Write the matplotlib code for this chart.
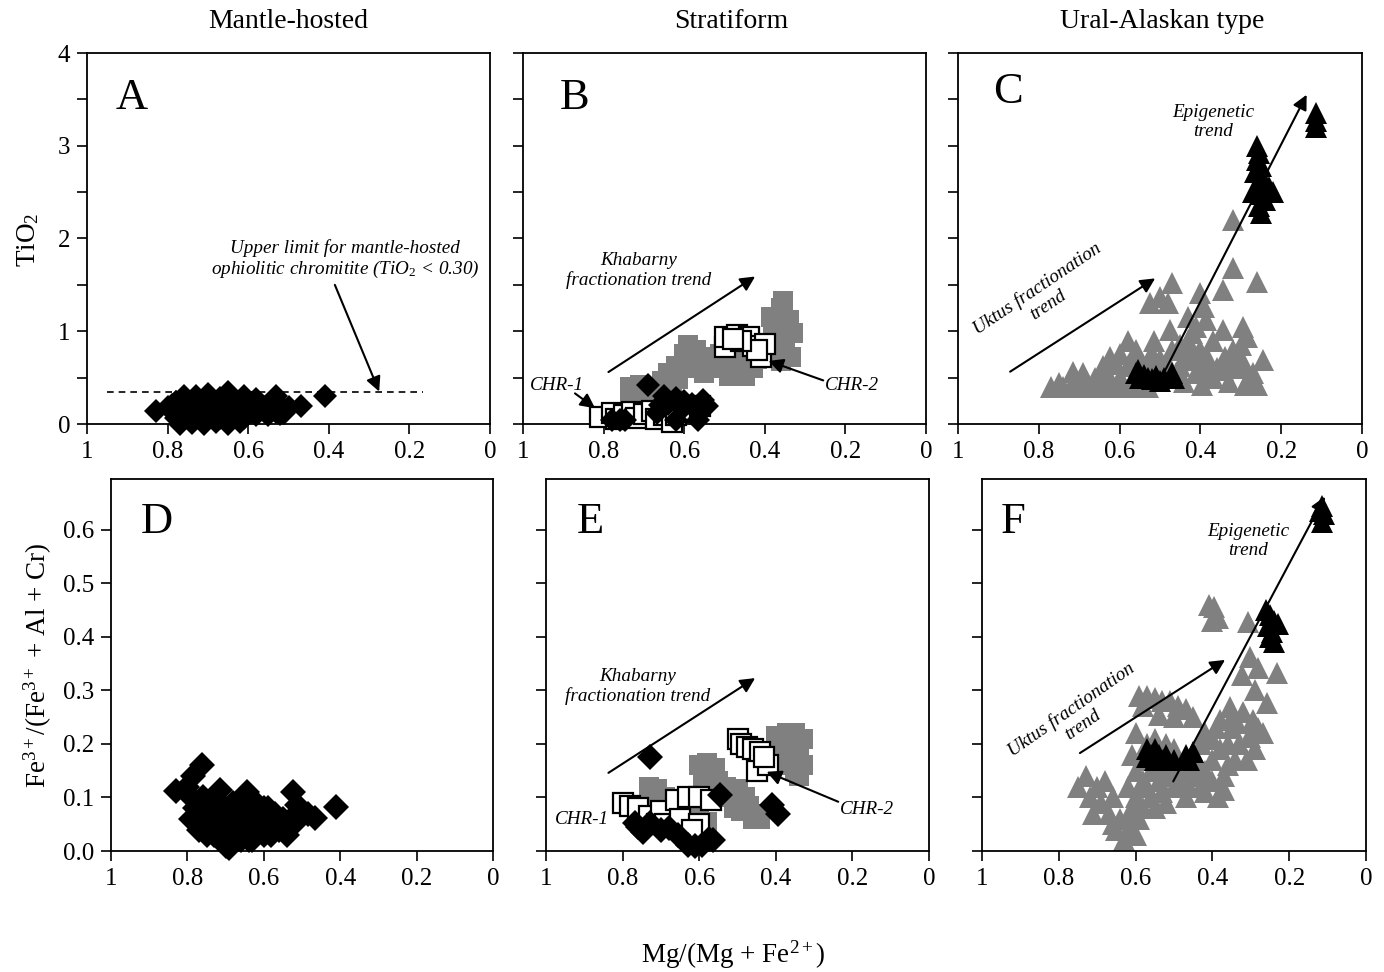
import matplotlib
matplotlib.use("Agg")
import matplotlib.pyplot as plt
from matplotlib.ticker import MultipleLocator, FixedLocator

plt.rcParams["font.family"] = ["Liberation Serif", "DejaVu Serif"]
plt.rcParams["mathtext.fontset"] = "custom"
plt.rcParams["mathtext.rm"] = "Liberation Serif"
plt.rcParams["mathtext.it"] = "Liberation Serif:italic"

GRAY = "#808080"

# ---- panel A: mantle-hosted, TiO2
a_x = [0.83, 0.80, 0.78, 0.76, 0.73, 0.70, 0.65, 0.61, 0.53, 0.67, 0.58,
       0.79, 0.78, 0.75, 0.72, 0.69, 0.66, 0.63, 0.60, 0.57, 0.55, 0.52, 0.50,
       0.79, 0.77, 0.74, 0.71, 0.68, 0.65, 0.62, 0.59, 0.56, 0.53, 0.51, 0.47,
       0.78, 0.76, 0.73, 0.70, 0.67, 0.64, 0.61, 0.58, 0.55, 0.52,
       0.77, 0.74, 0.71, 0.68, 0.65, 0.62, 0.41,
       0.72, 0.68, 0.64, 0.60, 0.56, 0.75, 0.70]
a_y = [0.14, 0.18, 0.24, 0.30, 0.30, 0.32, 0.34, 0.30, 0.30, 0.28, 0.27,
       0.20, 0.24, 0.22, 0.24, 0.22, 0.22, 0.24, 0.22, 0.22, 0.20, 0.21, 0.18,
       0.14, 0.12, 0.15, 0.13, 0.15, 0.13, 0.15, 0.13, 0.14, 0.13, 0.12, 0.19,
       0.06, 0.05, 0.07, 0.05, 0.07, 0.05, 0.07, 0.10, 0.10, 0.11,
       0.00, 0.01, 0.00, 0.02, 0.00, 0.02, 0.30,
       0.18, 0.10, 0.10, 0.17, 0.18, 0.17, 0.09]

# ---- panel B: stratiform, TiO2
b_gray_x = [0.735, 0.71, 0.69, 0.735, 0.71, 0.68,
            0.66, 0.655, 0.64, 0.63, 0.62, 0.615, 0.60, 0.59, 0.585, 0.57, 0.56,
            0.55, 0.54, 0.53, 0.52, 0.50, 0.49, 0.47, 0.46, 0.45, 0.43, 0.42,
            0.44, 0.48, 0.51,
            0.40, 0.38, 0.37, 0.385, 0.36, 0.355, 0.34, 0.33, 0.35, 0.335,
            0.36, 0.39, 0.37]
b_gray_y = [0.40, 0.42, 0.38, 0.30, 0.30, 0.30,
            0.36, 0.46, 0.55, 0.40, 0.62, 0.48, 0.75, 0.85, 0.60, 0.80, 0.68,
            0.55, 0.72, 0.60, 0.66, 0.60, 0.52, 0.58, 0.68, 0.52, 0.60, 0.70,
            0.76, 0.72, 0.75,
            0.85, 0.95, 1.05, 1.15, 1.25, 1.33, 1.12, 0.98, 0.82, 0.72,
            0.68, 0.72, 0.88]
b_open_x = [0.50, 0.50, 0.47, 0.44, 0.43, 0.41, 0.40, 0.42, 0.46, 0.48,
            0.81, 0.78, 0.77, 0.75, 0.73, 0.72, 0.70, 0.68, 0.67, 0.65, 0.64,
            0.63, 0.62, 0.60, 0.58, 0.56]
b_open_y = [0.83, 0.94, 0.96, 0.94, 0.84, 0.72, 0.86, 0.80, 0.90, 0.92,
            0.08, 0.12, 0.05, 0.10, 0.13, 0.06, 0.11, 0.14, 0.05, 0.10, 0.15,
            0.02, 0.10, 0.17, 0.13, 0.19]
b_dia_x = [0.69, 0.78, 0.76, 0.747, 0.668, 0.62, 0.566, 0.544, 0.553,
           0.65, 0.62, 0.60, 0.58, 0.57, 0.66, 0.64, 0.60]
b_dia_y = [0.42, 0.04, 0.04, 0.04, 0.12, 0.04, 0.04, 0.19, 0.26,
           0.30, 0.28, 0.25, 0.22, 0.15, 0.20, 0.22, 0.18]

# ---- panel C: Ural-Alaskan, TiO2
c_gray_x = [0.32, 0.32, 0.26, 0.345, 0.47, 0.50, 0.525, 0.48, 0.40, 0.39,
            0.385, 0.295, 0.285, 0.345, 0.32, 0.245, 0.28, 0.26, 0.345, 0.395,
            0.42, 0.75, 0.715, 0.69, 0.675, 0.65, 0.625, 0.61, 0.58, 0.56,
            0.53, 0.515, 0.475, 0.47, 0.435, 0.42, 0.60, 0.57, 0.55, 0.52,
            0.50, 0.48, 0.45, 0.43, 0.41, 0.40, 0.38, 0.37, 0.36, 0.33,
            0.30, 0.31, 0.29, 0.33, 0.37, 0.41, 0.44, 0.46, 0.63, 0.60,
            0.66, 0.72, 0.57, 0.54, 0.50, 0.43, 0.30,
            0.77, 0.74, 0.70, 0.68, 0.63, 0.59, 0.55, 0.64, 0.61, 0.58,
            0.53, 0.45, 0.40, 0.38, 0.34, 0.27, 0.29]
c_gray_y = [2.20, 1.68, 1.53, 1.45, 1.52, 1.37, 1.30, 1.30, 1.41, 1.26,
            1.12, 1.05, 0.94, 1.01, 0.80, 0.69, 0.51, 0.42, 0.58, 0.42,
            0.69, 0.44, 0.56, 0.55, 0.40, 0.40, 0.72, 0.40, 0.90, 0.80,
            0.40, 0.90, 1.01, 0.80, 0.76, 0.98, 0.75, 0.65, 0.70, 0.75,
            0.70, 0.65, 0.85, 0.90, 1.05, 0.80, 0.70, 0.90, 0.60, 0.68,
            0.85, 0.60, 0.42, 0.45, 0.50, 0.55, 0.45, 0.55, 0.55, 0.50,
            0.50, 0.40, 0.40, 0.60, 0.55, 1.15, 0.70,
            0.40, 0.40, 0.42, 0.45, 0.42, 0.42, 0.42, 0.62, 0.65, 0.62,
            0.68, 0.62, 0.62, 0.55, 0.72, 0.55, 0.62]
c_black_x = [0.115, 0.115, 0.115,
             0.26, 0.255, 0.26, 0.25, 0.265, 0.25, 0.24, 0.26, 0.23, 0.22,
             0.25, 0.27, 0.24, 0.255, 0.25,
             0.56, 0.55, 0.54, 0.53, 0.52, 0.50, 0.49, 0.47, 0.465, 0.555, 0.51]
c_black_y = [3.35, 3.27, 3.20,
             3.00, 2.92, 2.85, 2.78, 2.72, 2.65, 2.60, 2.55, 2.55, 2.50,
             2.48, 2.50, 2.42, 2.35, 2.28,
             0.55, 0.50, 0.53, 0.50, 0.48, 0.46, 0.50, 0.55, 0.50, 0.58, 0.52]

# ---- panel D: mantle-hosted, Fe3+ ratio
d_x = [0.83, 0.80, 0.785, 0.763, 0.79, 0.78, 0.79, 0.77, 0.76, 0.75, 0.74,
       0.73, 0.715, 0.72, 0.70, 0.71, 0.70, 0.69, 0.68, 0.67, 0.66, 0.644,
       0.65, 0.64, 0.63, 0.62, 0.61, 0.60, 0.59, 0.58, 0.57, 0.56, 0.55,
       0.54, 0.524, 0.513, 0.53, 0.50, 0.484, 0.465, 0.41, 0.60, 0.68, 0.75,
       0.77, 0.73, 0.72, 0.69, 0.68, 0.66, 0.66, 0.63, 0.62, 0.60, 0.58,
       0.57, 0.52, 0.74, 0.71, 0.66, 0.64]
d_y = [0.113, 0.12, 0.14, 0.16, 0.10, 0.08, 0.06, 0.04, 0.10, 0.07, 0.05,
       0.03, 0.114, 0.09, 0.07, 0.04, 0.01, 0.005, 0.09, 0.06, 0.03, 0.111,
       0.08, 0.05, 0.02, 0.09, 0.06, 0.03, 0.08, 0.05, 0.07, 0.04, 0.06,
       0.03, 0.111, 0.086, 0.06, 0.075, 0.07, 0.062, 0.083, 0.08, 0.03, 0.03,
       0.08, 0.10, 0.06, 0.08, 0.06, 0.09, 0.05, 0.07, 0.04, 0.05, 0.03,
       0.05, 0.05, 0.08, 0.02, 0.02, 0.02]

# ---- panel E: stratiform, Fe3+ ratio
e_gray_x = [0.73, 0.71, 0.69, 0.72, 0.70,
            0.60, 0.58, 0.56, 0.59, 0.57, 0.55, 0.53, 0.52, 0.50, 0.48, 0.47,
            0.45, 0.49, 0.55, 0.51, 0.46, 0.44,
            0.62, 0.60, 0.58, 0.61, 0.59,
            0.40, 0.37, 0.35, 0.33, 0.36, 0.34, 0.33, 0.35, 0.37, 0.34, 0.38]
e_gray_y = [0.12, 0.115, 0.10, 0.095, 0.09,
            0.16, 0.165, 0.155, 0.13, 0.125, 0.13, 0.12, 0.10, 0.115, 0.10, 0.085,
            0.07, 0.075, 0.10, 0.08, 0.06, 0.06,
            0.075, 0.065, 0.055, 0.09, 0.045,
            0.215, 0.22, 0.22, 0.21, 0.19, 0.18, 0.16, 0.15, 0.16, 0.14, 0.19]
e_open_x = [0.50, 0.49, 0.475, 0.46, 0.44, 0.45, 0.42, 0.43,
            0.80, 0.78, 0.76, 0.73, 0.71, 0.70, 0.69, 0.66, 0.65, 0.63, 0.60,
            0.57, 0.60, 0.62]
e_open_y = [0.21, 0.20, 0.195, 0.19, 0.185, 0.15, 0.16, 0.175,
            0.09, 0.085, 0.08, 0.065, 0.05, 0.075, 0.05, 0.095, 0.06, 0.10, 0.10,
            0.095, 0.05, 0.04]
e_dia_x = [0.728, 0.768, 0.747, 0.728, 0.76, 0.68, 0.655, 0.63, 0.61, 0.593,
           0.564, 0.575, 0.546, 0.41, 0.393, 0.70]
e_dia_y = [0.176, 0.052, 0.036, 0.052, 0.045, 0.043, 0.03, 0.011, 0.01, 0.011,
           0.02, 0.022, 0.105, 0.086, 0.07, 0.04]

# ---- panel F: Ural-Alaskan, Fe3+ ratio
f_gray_x = [0.41, 0.395, 0.40, 0.385,
            0.307, 0.324, 0.302, 0.28, 0.233, 0.289, 0.259, 0.294, 0.268, 0.302,
            0.337, 0.354, 0.38,
            0.59, 0.57, 0.55, 0.53, 0.51, 0.49, 0.47, 0.50, 0.54, 0.45, 0.58,
            0.60, 0.61, 0.60, 0.58, 0.56, 0.54, 0.52, 0.50, 0.48, 0.46, 0.44,
            0.42, 0.40, 0.38, 0.36, 0.40, 0.43, 0.45, 0.49, 0.53, 0.56, 0.58,
            0.55, 0.52, 0.47, 0.42, 0.385, 0.37, 0.34, 0.33, 0.35, 0.32, 0.30,
            0.29, 0.28, 0.31, 0.37,
            0.75, 0.73, 0.72, 0.70, 0.68, 0.69, 0.67, 0.66, 0.71, 0.64, 0.62,
            0.60, 0.63, 0.61, 0.65, 0.59,
            0.57, 0.55, 0.52, 0.50, 0.48, 0.44, 0.58, 0.62, 0.60, 0.57, 0.54,
            0.51, 0.47, 0.43, 0.40, 0.36, 0.39, 0.42, 0.35, 0.66, 0.62]
f_gray_y = [0.46, 0.455, 0.43, 0.435,
            0.428, 0.329, 0.363, 0.342, 0.333, 0.301, 0.276, 0.245, 0.22, 0.213,
            0.239, 0.269, 0.245,
            0.29, 0.29, 0.285, 0.28, 0.28, 0.27, 0.265, 0.25, 0.255, 0.25, 0.27,
            0.22, 0.18, 0.15, 0.13, 0.15, 0.13, 0.14, 0.12, 0.13, 0.12, 0.14,
            0.15, 0.17, 0.19, 0.20, 0.21, 0.20, 0.16, 0.15, 0.11, 0.10, 0.08,
            0.08, 0.09, 0.10, 0.11, 0.10, 0.14, 0.17, 0.20, 0.23, 0.26, 0.22,
            0.19, 0.23, 0.17, 0.114,
            0.12, 0.14, 0.10, 0.12, 0.13, 0.09, 0.07, 0.10, 0.07, 0.06, 0.04,
            0.03, 0.02, 0.08, 0.04, 0.06,
            0.20, 0.21, 0.20, 0.19, 0.16, 0.17, 0.17, 0.12, 0.10, 0.12, 0.16,
            0.16, 0.14, 0.12, 0.13, 0.16, 0.23, 0.22, 0.25, 0.05, 0.06]
f_black_x = [0.115, 0.12, 0.11, 0.115,
             0.26, 0.25, 0.24, 0.23, 0.245, 0.25, 0.24, 0.255,
             0.57, 0.56, 0.55, 0.54, 0.53, 0.52, 0.50, 0.47, 0.46, 0.45, 0.55, 0.57]
f_black_y = [0.645, 0.635, 0.63, 0.615,
             0.45, 0.44, 0.43, 0.425, 0.41, 0.40, 0.39, 0.42,
             0.19, 0.18, 0.19, 0.18, 0.17, 0.18, 0.17, 0.18, 0.17, 0.185, 0.17, 0.175]

W, H = 1384, 972
fig = plt.figure(figsize=(W / 100, H / 100), dpi=100)


def px_axes(l, t, r, b):
    return fig.add_axes([l / W, 1 - b / H, (r - l) / W, (b - t) / H])


def style(ax, top_row, show_ylabels):
    ax.set_xlim(1, 0)
    ax.xaxis.set_major_locator(FixedLocator([1, 0.8, 0.6, 0.4, 0.2, 0]))
    ax.set_xticklabels(["1", "0.8", "0.6", "0.4", "0.2", "0"])
    if top_row:
        ax.set_ylim(0, 4)
        ax.yaxis.set_major_locator(MultipleLocator(1))
        ax.yaxis.set_minor_locator(MultipleLocator(0.5))
    else:
        ax.set_ylim(0, 0.695)
        ax.yaxis.set_major_locator(FixedLocator([0, 0.1, 0.2, 0.3, 0.4, 0.5, 0.6]))
        ax.set_yticklabels(["0.0", "0.1", "0.2", "0.3", "0.4", "0.5", "0.6"])
    if not show_ylabels:
        ax.tick_params(axis="y", labelleft=False)
    ax.tick_params(which="both", direction="out", length=7, width=1.2,
                   labelsize=18, pad=5)
    for s in ax.spines.values():
        s.set_linewidth(1.3)


def arrow(ax, x0, y0, x1, y1):
    ax.annotate("", xy=(x1, y1), xytext=(x0, y0),
                arrowprops=dict(arrowstyle="-|>", color="k", lw=1.5,
                                mutation_scale=22, shrinkA=0, shrinkB=0),
                zorder=6)


def letter(ax, fx, fy, s):
    ax.text(fx, fy, s, transform=ax.transAxes, fontsize=32,
            ha="center", va="center")


def pts(ax, x, y, marker, ms, face, edge="none", ew=0, z=3):
    ax.plot(x, y, linestyle="none", marker=marker, markersize=ms,
            markerfacecolor=face, markeredgecolor=edge, markeredgewidth=ew,
            clip_on=False, zorder=z)


axA = px_axes(87, 53, 490, 424)
axB = px_axes(523, 53, 926, 424)
axC = px_axes(958, 53, 1362, 424)
axD = px_axes(111, 479, 493, 851)
axE = px_axes(546, 479, 929, 851)
axF = px_axes(982, 479, 1366, 851)

style(axA, True, True)
style(axB, True, False)
style(axC, True, False)
style(axD, False, True)
style(axE, False, False)
style(axF, False, False)

it = dict(fontsize=13.8, style="italic", ha="center", va="center", zorder=7)

DIA = 12.5
SQ = 14.5
TRI = 15.5

# A
pts(axA, a_x, a_y, "D", DIA, "k")
axA.plot([0.951, 0.167], [0.34, 0.34], color="k", lw=1.2, dashes=(4, 3))
arrow(axA, 0.385, 1.50, 0.275, 0.35)
axA.text(0.36, 1.77, "Upper limit for mantle-hosted\n"
         "ophiolitic chromitite (TiO$_2$ < 0.30)", linespacing=1.15, **it)
letter(axA, 0.11, 0.88, "A")

# B
pts(axB, b_gray_x, b_gray_y, "s", SQ, GRAY, z=2)
pts(axB, b_open_x, b_open_y, "s", SQ, "white", "k", 1.6, z=3)
pts(axB, b_dia_x, b_dia_y, "D", DIA, "k", z=4)
arrow(axB, 0.788, 0.56, 0.424, 1.59)
axB.text(0.714, 1.66, "Khabarny\nfractionation trend", linespacing=1.15, **it)
axB.text(0.916, 0.42, "CHR-1", **it)
arrow(axB, 0.871, 0.33, 0.821, 0.17)
axB.text(0.184, 0.42, "CHR-2", **it)
arrow(axB, 0.255, 0.47, 0.391, 0.68)
letter(axB, 0.127, 0.88, "B")

# C
pts(axC, c_gray_x, c_gray_y, "^", TRI, GRAY, z=2)
pts(axC, c_black_x, c_black_y, "^", TRI, "k", z=3)
arrow(axC, 0.871, 0.564, 0.512, 1.57)
arrow(axC, 0.50, 0.47, 0.137, 3.55)
axC.text(0.79, 1.37, "Uktus fractionation\ntrend", rotation=34,
         linespacing=1.15, **it)
axC.text(0.368, 3.26, "Epigenetic\ntrend", linespacing=1.15, **it)
letter(axC, 0.124, 0.895, "C")

# D
pts(axD, d_x, d_y, "D", 13, "k")
letter(axD, 0.12, 0.884, "D")

# E
pts(axE, e_gray_x, e_gray_y, "s", SQ, GRAY, z=2)
pts(axE, e_open_x, e_open_y, "s", SQ, "white", "k", 1.6, z=3)
pts(axE, e_dia_x, e_dia_y, "D", 13, "k", z=4)
arrow(axE, 0.837, 0.146, 0.454, 0.323)
axE.text(0.76, 0.307, "Khabarny\nfractionation trend", linespacing=1.15, **it)
axE.text(0.907, 0.058, "CHR-1", **it)
axE.text(0.163, 0.077, "CHR-2", **it)
arrow(axE, 0.237, 0.092, 0.424, 0.148)
letter(axE, 0.115, 0.884, "E")

# F
pts(axF, f_gray_x, f_gray_y, "^", TRI, GRAY, z=2)
pts(axF, f_black_x, f_black_y, "^", TRI, "k", z=3)
arrow(axF, 0.745, 0.183, 0.367, 0.357)
arrow(axF, 0.502, 0.13, 0.107, 0.662)
axF.text(0.753, 0.25, "Uktus fractionation\ntrend", rotation=35,
         linespacing=1.15, **it)
axF.text(0.307, 0.58, "Epigenetic\ntrend", linespacing=1.15, **it)
letter(axF, 0.08, 0.884, "F")

# column titles and axis labels
for xc, t in [(288, "Mantle-hosted"), (731, "Stratiform"), (1162, "Ural-Alaskan type")]:
    fig.text(xc / W, 1 - 22 / H, t, fontsize=20, ha="center", va="center")
fig.text(28 / W, 1 - 240 / H, "TiO$_2$", fontsize=19.5, rotation=90,
         ha="center", va="center")
fig.text(38 / W, 1 - 665 / H, "Fe$^{3+}$/(Fe$^{3+}$ + Al + Cr)", fontsize=19.5,
         rotation=90, ha="center", va="center")
fig.text(733 / W, 1 - 955 / H, "Mg/(Mg + Fe$^{2+}$)", fontsize=19.5,
         ha="center", va="center")

fig.savefig("out.png", dpi=100)
